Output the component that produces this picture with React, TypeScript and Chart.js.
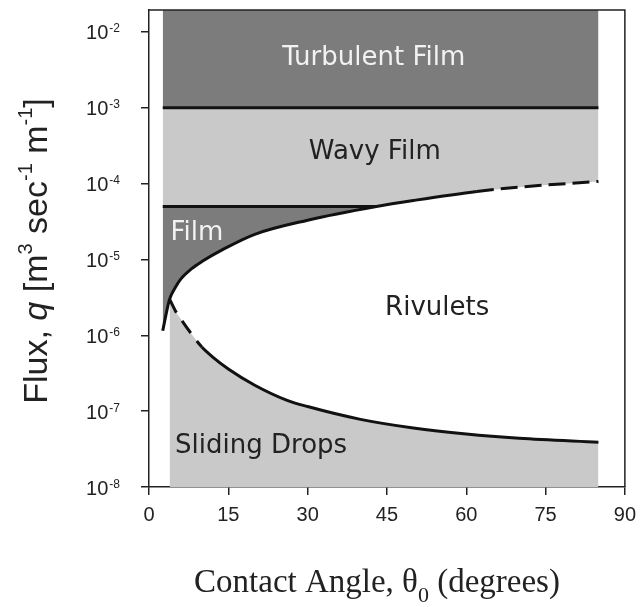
import React, { useEffect, useRef } from 'react';
import { Chart, registerables } from 'chart.js';

Chart.register(...registerables);

// Axis ranges and ticks
const angleRange = [0, 90];
const angleStep = 15;
const fluxDecades = [1e-8, 1e-7, 1e-6, 1e-5, 1e-4, 1e-3, 1e-2];
const fluxTop = 1.95e-2;

// Wavy -> turbulent film transition
const turbulentAngles = [2.6, 85];
const turbulentFlux = [1e-3, 1e-3];

// Film -> wavy film transition
const filmCeilingAngles = [2.6, 43];
const filmCeilingFlux = [5e-5, 5e-5];

// Film / rivulet boundary, including the short low-angle branch
const rivuletAngles = [2.6, 3.0, 3.4, 3.9, 5, 6, 8, 10, 14, 20, 30, 43, 50, 62, 70, 85];
const rivuletFlux = [
  1.15e-6, 1.58e-6, 2.16e-6, 3.0e-6, 4.3e-6, 5.5e-6, 7.5e-6, 9.4e-6, 1.36e-5, 2.15e-5,
  3.3e-5, 5.0e-5, 6.0e-5, 7.9e-5, 9.0e-5, 1.07e-4,
];
const rivuletDashedFrom = 62;

// Rivulet / sliding drop boundary
const dropAngles = [3.9, 5, 6, 8, 10, 12, 15, 20, 26, 30, 40, 50, 60, 70, 85];
const dropFlux = [
  3.0e-6, 2.1e-6, 1.65e-6, 1.05e-6, 7.0e-7, 5.2e-7, 3.6e-7, 2.2e-7, 1.4e-7, 1.15e-7,
  7.8e-8, 6.0e-8, 5.0e-8, 4.4e-8, 3.9e-8,
];
const dropSolidFrom = 10;

const DARK = '#7c7c7c';
const LIGHT = '#c9c9c9';
const INK = '#111111';
const TEXT = '#222222';
const SANS = '"Liberation Sans", Arial, sans-serif';
const SERIF = '"Liberation Serif", "Times New Roman", serif';
const LABEL_FONT = '"DejaVu Sans", Verdana, sans-serif';

// Regime names, anchored in data units (angle, flux at the text baseline)
const regionLabels = [
  { text: 'Turbulent Film', angle: 42.5, flux: 3.69e-3, align: 'center', color: '#f2f2f2' },
  { text: 'Wavy Film', angle: 42.7, flux: 2.12e-4, align: 'center', color: TEXT },
  { text: 'Film', angle: 4.07, flux: 1.82e-5, align: 'left', color: '#f2f2f2' },
  { text: 'Rivulets', angle: 54.5, flux: 1.86e-6, align: 'center', color: TEXT },
  { text: 'Sliding Drops', angle: 21.2, flux: 2.81e-8, align: 'center', color: TEXT },
];

const zip = (xs: number[], ys: number[]) => xs.map((x, i) => ({ x, y: ys[i] }));

type Run = { text: string; font: string; dy?: number };

function drawRuns(ctx: CanvasRenderingContext2D, runs: Run[]) {
  let total = 0;
  for (const r of runs) {
    ctx.font = r.font;
    total += ctx.measureText(r.text).width;
  }
  let x = -total / 2;
  for (const r of runs) {
    ctx.font = r.font;
    ctx.fillText(r.text, x, r.dy || 0);
    x += ctx.measureText(r.text).width;
  }
}

const decorations = {
  id: 'decorations',
  afterDraw(chart: any) {
    const { ctx, chartArea: a, scales } = chart;
    const xs = scales.x;
    const ys = scales.y;
    ctx.save();

    // frame
    ctx.strokeStyle = TEXT;
    ctx.lineWidth = 1.5;
    ctx.beginPath();
    ctx.moveTo(a.left, a.top);
    ctx.lineTo(a.right, a.top);
    ctx.lineTo(a.right, a.bottom);
    ctx.stroke();

    // power-of-ten tick labels
    ctx.fillStyle = TEXT;
    ctx.textAlign = 'left';
    ctx.textBaseline = 'alphabetic';
    for (const t of ys.ticks) {
      const py = ys.getPixelForValue(t.value);
      const base = '10';
      const exp = String(Math.round(Math.log10(t.value)));
      ctx.font = `20px ${SANS}`;
      const bw = ctx.measureText(base).width;
      ctx.font = `12px ${SANS}`;
      const ew = ctx.measureText(exp).width;
      const x0 = a.left - 29 - ew - bw - 1;
      ctx.font = `20px ${SANS}`;
      ctx.fillText(base, x0, py + 7.5);
      ctx.font = `12px ${SANS}`;
      ctx.fillText(exp, x0 + bw + 1, py + 0.5);
    }

    // regime names
    ctx.font = `26px ${LABEL_FONT}`;
    for (const l of regionLabels) {
      ctx.fillStyle = l.color;
      ctx.textAlign = l.align as CanvasTextAlign;
      ctx.fillText(l.text, xs.getPixelForValue(l.angle), ys.getPixelForValue(l.flux));
    }

    // y axis title
    ctx.fillStyle = TEXT;
    ctx.textAlign = 'left';
    ctx.save();
    ctx.translate(47, 251);
    ctx.rotate(-Math.PI / 2);
    const big = `34px ${SANS}`;
    const sup = `20px ${SANS}`;
    drawRuns(ctx, [
      { text: 'Flux, ', font: big },
      { text: 'q', font: `italic ${big}` },
      { text: ' [m', font: big },
      { text: '3', font: sup, dy: -15 },
      { text: ' sec', font: big },
      { text: '-1', font: sup, dy: -15 },
      { text: ' m', font: big },
      { text: '-1', font: sup, dy: -15 },
      { text: ']', font: big },
    ]);
    ctx.restore();

    // x axis title
    ctx.save();
    ctx.translate(377, 592);
    drawRuns(ctx, [
      { text: 'Contact Angle, \u03B8', font: `33px ${SERIF}` },
      { text: '0', font: `22px ${SERIF}`, dy: 10 },
      { text: ' (degrees)', font: `33px ${SERIF}` },
    ]);
    ctx.restore();

    ctx.restore();
  },
};

export default function App() {
  const ref = useRef<HTMLCanvasElement | null>(null);

  useEffect(() => {
    if (!ref.current) return;
    const area = { pointRadius: 0, pointHoverRadius: 0, borderWidth: 0 };
    const line = {
      pointRadius: 0,
      pointHoverRadius: 0,
      borderColor: INK,
      borderWidth: 3,
      borderCapStyle: 'butt' as const,
      fill: false,
    };
    const chart = new Chart(ref.current, {
      type: 'line',
      data: {
        datasets: [
          // boundary lines (drawn above every filled region)
          { ...line, data: zip(turbulentAngles, turbulentFlux) },
          { ...line, data: zip(filmCeilingAngles, filmCeilingFlux) },
          {
            ...line,
            data: zip(rivuletAngles, rivuletFlux),
            cubicInterpolationMode: 'monotone',
            segment: {
              borderDash: (c: any) => (c.p0.parsed.x >= rivuletDashedFrom ? [17, 7] : undefined),
            },
          },
          {
            ...line,
            data: zip(dropAngles, dropFlux),
            cubicInterpolationMode: 'monotone',
            segment: {
              borderDash: (c: any) => (c.p1.parsed.x <= dropSolidFrom ? [15, 10] : undefined),
            },
          },
          // regime areas: turbulent film, film, wavy film, sliding drops
          { ...area, data: zip(turbulentAngles, turbulentFlux), fill: 'end', backgroundColor: DARK },
          { ...area, data: zip(filmCeilingAngles, filmCeilingFlux), fill: 6, backgroundColor: DARK },
          {
            ...area,
            data: zip(rivuletAngles, rivuletFlux),
            fill: 'end',
            backgroundColor: LIGHT,
            cubicInterpolationMode: 'monotone',
          },
          {
            ...area,
            data: zip(dropAngles, dropFlux),
            fill: 'start',
            backgroundColor: LIGHT,
            cubicInterpolationMode: 'monotone',
          },
        ] as any,
      },
      options: {
        animation: false,
        responsive: false,
        maintainAspectRatio: false,
        events: [],
        layout: { padding: { top: 10, right: 15, left: 0, bottom: 0 } },
        plugins: {
          legend: { display: false },
          tooltip: { enabled: false },
          filler: { drawTime: 'beforeDatasetsDraw' },
        } as any,
        scales: {
          x: {
            type: 'linear',
            min: angleRange[0],
            max: angleRange[1],
            ticks: {
              stepSize: angleStep,
              color: TEXT,
              font: { family: SANS, size: 20 },
              padding: 8,
              maxRotation: 0,
            },
            grid: {
              drawOnChartArea: false,
              drawTicks: true,
              tickLength: 8,
              color: TEXT,
              lineWidth: 1.5,
            },
            border: { color: TEXT, width: 1.5 },
            afterFit: (s: any) => {
              s.height = 120;
            },
          },
          y: {
            type: 'logarithmic',
            min: fluxDecades[0],
            max: fluxTop,
            ticks: { display: false },
            afterBuildTicks: (s: any) => {
              s.ticks = fluxDecades.map((v) => ({ value: v }));
            },
            grid: {
              drawOnChartArea: false,
              drawTicks: true,
              tickLength: 8,
              color: TEXT,
              lineWidth: 1.5,
            },
            border: { color: TEXT, width: 1.5 },
            afterFit: (s: any) => {
              s.width = 149;
            },
          },
        } as any,
      },
      plugins: [decorations],
    });
    return () => chart.destroy();
  }, []);

  return (
    <div style={{ position: 'fixed', left: 0, top: 0, width: 644, height: 607, background: '#fff' }}>
      <canvas ref={ref} width={644} height={607} style={{ display: 'block' }} />
    </div>
  );
}
